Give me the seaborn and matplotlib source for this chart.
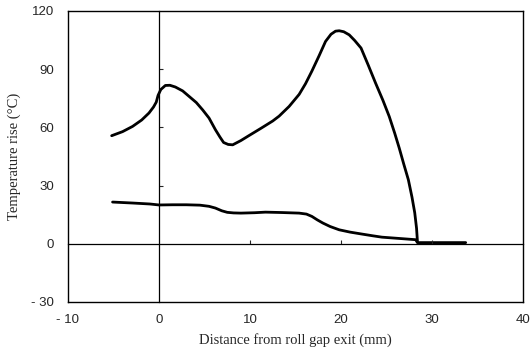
import matplotlib
matplotlib.use("Agg")
import matplotlib.pyplot as plt
import seaborn as sns
import pandas as pd

# Upper curve
upper_x = [-5.2, -4.0, -2.9, -1.9, -1.1, -0.6, -0.3, -0.1, 0.2, 0.7, 1.2, 1.8, 2.6, 3.3, 4.1,
           4.8, 5.5, 6.2, 6.7, 7.1, 7.6, 8.1, 9.0, 9.9, 11.2, 12.5, 13.2, 14.3, 15.4, 16.1,
           16.8, 17.6, 18.3, 18.9, 19.4, 19.8, 20.3, 20.9, 21.5, 22.2, 23.0, 23.8, 24.6,
           25.3, 25.9, 26.4, 26.9, 27.4, 27.8, 28.1, 28.3, 28.4]
upper_y = [55.7, 57.8, 60.5, 63.8, 67.4, 70.5, 73.0, 76.5, 79.5, 81.6, 81.7, 80.8, 78.8, 76.0,
           72.8, 69.0, 64.8, 58.8, 55.0, 52.2, 51.2, 51.0, 53.2, 55.8, 59.5, 63.3, 65.8, 70.8,
           77.0, 82.5, 89.0, 97.0, 104.3, 108.0, 109.6, 109.8, 109.3, 107.7, 104.8, 100.9,
           92.0, 82.8, 74.0, 65.6, 57.0, 49.3, 41.0, 33.0, 24.0, 16.0, 8.0, 1.0]
# Lower curve
lower_x = [-5.1, -2.9, -1.0, 0.0, 1.5, 3.0, 4.5, 5.5, 6.2, 6.9, 7.5, 8.2, 9.0, 10.5, 11.7,
           13.5, 15.4, 16.2, 16.8, 17.4, 18.0, 18.8, 19.8, 21.0, 22.3, 23.5, 24.5, 26.5,
           28.2, 28.4, 33.7]
lower_y = [21.5, 21.0, 20.5, 20.0, 20.1, 20.1, 19.9, 19.3, 18.4, 17.0, 16.2, 15.9, 15.8, 16.0,
           16.3, 16.1, 15.8, 15.3, 14.1, 12.3, 10.7, 8.9, 7.2, 6.0, 5.0, 4.1, 3.4, 2.7,
           2.1, 0.6, 0.6]

x_ticks = [-10, 0, 10, 20, 30, 40]
x_labels = ["- 10", "0", "10", "20", "30", "40"]
y_ticks = [-30, 0, 30, 60, 90, 120]
y_labels = ["- 30", "0", "30", "60", "90", "120"]
inner_x_ticks = [10, 20, 30]
inner_y_ticks = [30, 60, 90]

df = pd.concat([
    pd.DataFrame({"x": upper_x, "y": upper_y, "series": "upper"}),
    pd.DataFrame({"x": lower_x, "y": lower_y, "series": "lower"}),
])

sns.set_style("white")
fig = plt.figure(figsize=(5.31, 3.54), dpi=100)
pos = [0.128, 0.147, 0.857, 0.822]
ax = fig.add_axes(pos)

sns.lineplot(data=df, x="x", y="y", units="series", estimator=None, sort=False,
             color="black", linewidth=2.0, ax=ax, legend=False)
for ln in ax.get_lines():
    ln.set_solid_joinstyle("round")
    ln.set_solid_capstyle("round")

ax.set_xlim(-10, 40)
ax.set_ylim(-30, 120)
ax.set_xticks(x_ticks)
ax.set_xticklabels(x_labels)
ax.set_yticks(y_ticks)
ax.set_yticklabels(y_labels)
ax.tick_params(axis="y", length=0, pad=10, labelsize=9.5)
ax.tick_params(axis="x", length=0, pad=9, labelsize=9.5)
for lab in ax.get_xticklabels() + ax.get_yticklabels():
    lab.set_family("Liberation Sans")
for s in ax.spines.values():
    s.set_visible(True)
    s.set_color("black")
    s.set_linewidth(1.0)

ax.set_xlabel("Distance from roll gap exit (mm)", family="Liberation Serif", fontsize=10.5, labelpad=5)
ax.set_ylabel("Temperature rise (°C)", family="Liberation Serif", fontsize=10.5, labelpad=7)

# Inner axes crossing at zero
ax2 = fig.add_axes(pos)
ax2.patch.set_alpha(0)
ax2.set_xlim(-10, 40)
ax2.set_ylim(-30, 120)
for k in ["top", "right"]:
    ax2.spines[k].set_visible(False)
ax2.spines["left"].set_position(("data", 0))
ax2.spines["bottom"].set_position(("data", 0))
for k in ["left", "bottom"]:
    ax2.spines[k].set_color("black")
    ax2.spines[k].set_linewidth(0.9)
ax2.xaxis.set_ticks_position("bottom")
ax2.yaxis.set_ticks_position("left")
ax2.set_xticks(inner_x_ticks)
ax2.set_yticks(inner_y_ticks)
ax2.tick_params(direction="in", length=3, width=0.8, labelbottom=False, labelleft=False)
ax2.set_xlabel("")
ax2.set_ylabel("")

fig.savefig("out.png", dpi=100)
